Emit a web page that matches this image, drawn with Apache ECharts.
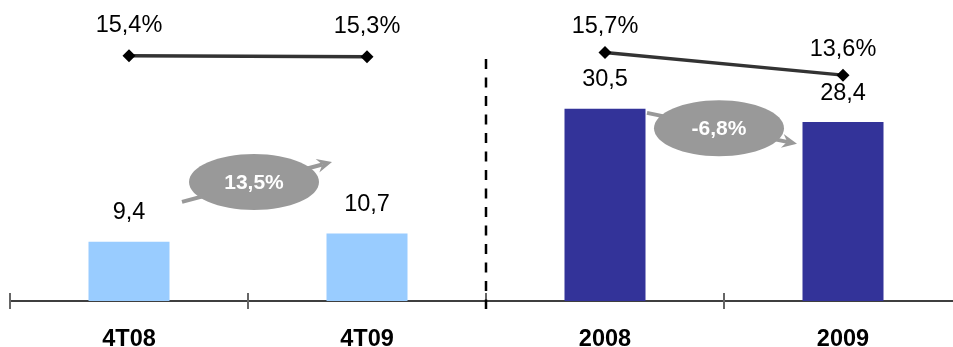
<!DOCTYPE html>
<html>
<head>
<meta charset="utf-8">
<script src="https://cdn.jsdelivr.net/npm/echarts@6/dist/echarts.min.js"></script>
<style>
html,body{margin:0;padding:0;background:#fff;}
#chart{width:953px;height:347px;}
</style>
</head>
<body>
<div id="chart"></div>
<script>
// ---- data ----
const categories = ['4T08', '4T09', '2008', '2009'];
const barValues = [9.4, 10.7, 30.5, 28.4];
const marginQuarter = [15.4, 15.3, '-', '-'];
const marginYear = ['-', '-', 15.7, 13.6];
const growthLabels = ['13,5%', '-6,8%'];
const growthPairs = [[0, 1], [2, 3]];
const separatorAfter = [1]; // dashed separator between category 1 and 2

// ---- layout of the growth annotations (not data) ----
const annotLayout = [
  { y: 18.9, dx: 6, dy: -20 },
  { y: 27.4, dx: -5, dy: 15.5 }
];

const FONT = '"Liberation Sans", Arial, Helvetica, sans-serif';
const barColors = ['#99CCFF', '#99CCFF', '#333399', '#333399'];
const fmtNum = v => String(v).replace('.', ',');
const fmtPct = p => (typeof p.value === 'number' ? p.value.toFixed(1).replace('.', ',') + '%' : '');

const chart = echarts.init(document.getElementById('chart'), null, { renderer: 'canvas' });

function renderGrowth(params, api) {
  const i = params.dataIndex;
  const pair = growthPairs[i];
  const L = annotLayout[i];
  const pa = api.coord([pair[0], L.y]);
  const pb = api.coord([pair[1], L.y]);
  const cx = (pa[0] + pb[0]) / 2 + L.dx;
  const cy = pa[1];
  const rx = 65, ry = 28;
  const sx = cx - 72, sy = cy - L.dy;
  const ex = cx + 78, ey = cy + L.dy;
  const ang = Math.atan2(ey - sy, ex - sx);
  const ca = Math.cos(ang), sa = Math.sin(ang);
  const hl = 15, hw = 7, notch = 10;
  const tip = [ex, ey];
  const bl = [ex - hl * ca + hw * sa, ey - hl * sa - hw * ca];
  const br = [ex - hl * ca - hw * sa, ey - hl * sa + hw * ca];
  const nt = [ex - notch * ca, ey - notch * sa];
  return {
    type: 'group',
    children: [
      { type: 'line', shape: { x1: sx, y1: sy, x2: nt[0], y2: nt[1] },
        style: { stroke: '#999999', lineWidth: 4 } },
      { type: 'polygon', shape: { points: [tip, bl, nt, br] },
        style: { fill: '#999999' } },
      { type: 'ellipse', shape: { cx: cx, cy: cy, rx: rx, ry: ry },
        style: { fill: '#999999' } },
      { type: 'text', x: cx, y: cy + 1,
        style: { text: growthLabels[i], fill: '#ffffff', fontSize: 21, fontWeight: 'bold',
                 fontFamily: FONT, align: 'center', verticalAlign: 'middle' } }
    ]
  };
}

function renderSeparator(params, api) {
  const k = separatorAfter[params.dataIndex];
  const p1 = api.coord([k, 0]);
  const p2 = api.coord([k + 1, 0]);
  const x = Math.round((p1[0] + p2[0]) / 2);
  const cs = params.coordSys;
  return {
    type: 'line',
    shape: { x1: x, y1: cs.y - 1, x2: x, y2: cs.y + cs.height + 8 },
    style: { stroke: '#000', lineWidth: 2.5, lineDash: [10, 8.5] }
  };
}

const option = {
  animation: false,
  backgroundColor: '#ffffff',
  grid: { left: 10, right: -9, top: 60, bottom: 46, containLabel: false, outerBoundsMode: 'none' },
  xAxis: [
    {
      type: 'category', data: categories, position: 'bottom', boundaryGap: true,
      axisLine: { show: true, onZero: false, lineStyle: { color: '#000', width: 1.5 } },
      axisTick: { show: true, inside: false, length: 8, interval: 0, lineStyle: { color: '#666', width: 2 } },
      axisLabel: { show: true, interval: 0, margin: 27, color: '#000', fontSize: 23.5, fontWeight: 'bold', fontFamily: FONT },
      splitLine: { show: false }
    },
    {
      type: 'category', data: categories, position: 'bottom', offset: 0, boundaryGap: true,
      axisLine: { show: false, onZero: false },
      axisTick: { show: true, inside: true, length: 8, interval: 0, lineStyle: { color: '#666', width: 2 } },
      axisLabel: { show: false },
      splitLine: { show: false }
    }
  ],
  yAxis: [
    { type: 'value', min: 0, max: 38.25, show: false, splitLine: { show: false } },
    { type: 'value', min: -7.3, max: 15, show: false, splitLine: { show: false } }
  ],
  series: [
    {
      type: 'bar', xAxisIndex: 0, yAxisIndex: 0, barWidth: 81,
      data: barValues.map((v, i) => ({ value: v, itemStyle: { color: barColors[i] } })),
      label: { show: true, position: 'top', distance: 17, color: '#000', fontSize: 23.5, fontFamily: FONT,
               formatter: p => fmtNum(p.value) }
    },
    {
      type: 'line', xAxisIndex: 0, yAxisIndex: 1, data: marginQuarter, clip: false,
      symbol: 'diamond', symbolSize: 13, showAllSymbol: true,
      itemStyle: { color: '#000' },
      lineStyle: { color: '#333', width: 3.5 },
      label: { show: true, position: 'top', distance: 12, color: '#000', fontSize: 23.5, fontFamily: FONT, formatter: fmtPct }
    },
    {
      type: 'line', xAxisIndex: 0, yAxisIndex: 1, data: marginYear, clip: false,
      symbol: 'diamond', symbolSize: 13, showAllSymbol: true,
      itemStyle: { color: '#000' },
      lineStyle: { color: '#333', width: 3.5 },
      label: { show: true, position: 'top', distance: 7, color: '#000', fontSize: 23.5, fontFamily: FONT, formatter: fmtPct }
    },
    {
      type: 'custom', xAxisIndex: 0, yAxisIndex: 0, clip: false, z: 5,
      data: growthLabels.map((g, i) => [i]),
      renderItem: renderGrowth
    },
    {
      type: 'custom', xAxisIndex: 0, yAxisIndex: 0, clip: false, z: 1,
      data: separatorAfter.map((s, i) => [i]),
      renderItem: renderSeparator
    }
  ]
};
chart.setOption(option);
</script>
</body>
</html>
